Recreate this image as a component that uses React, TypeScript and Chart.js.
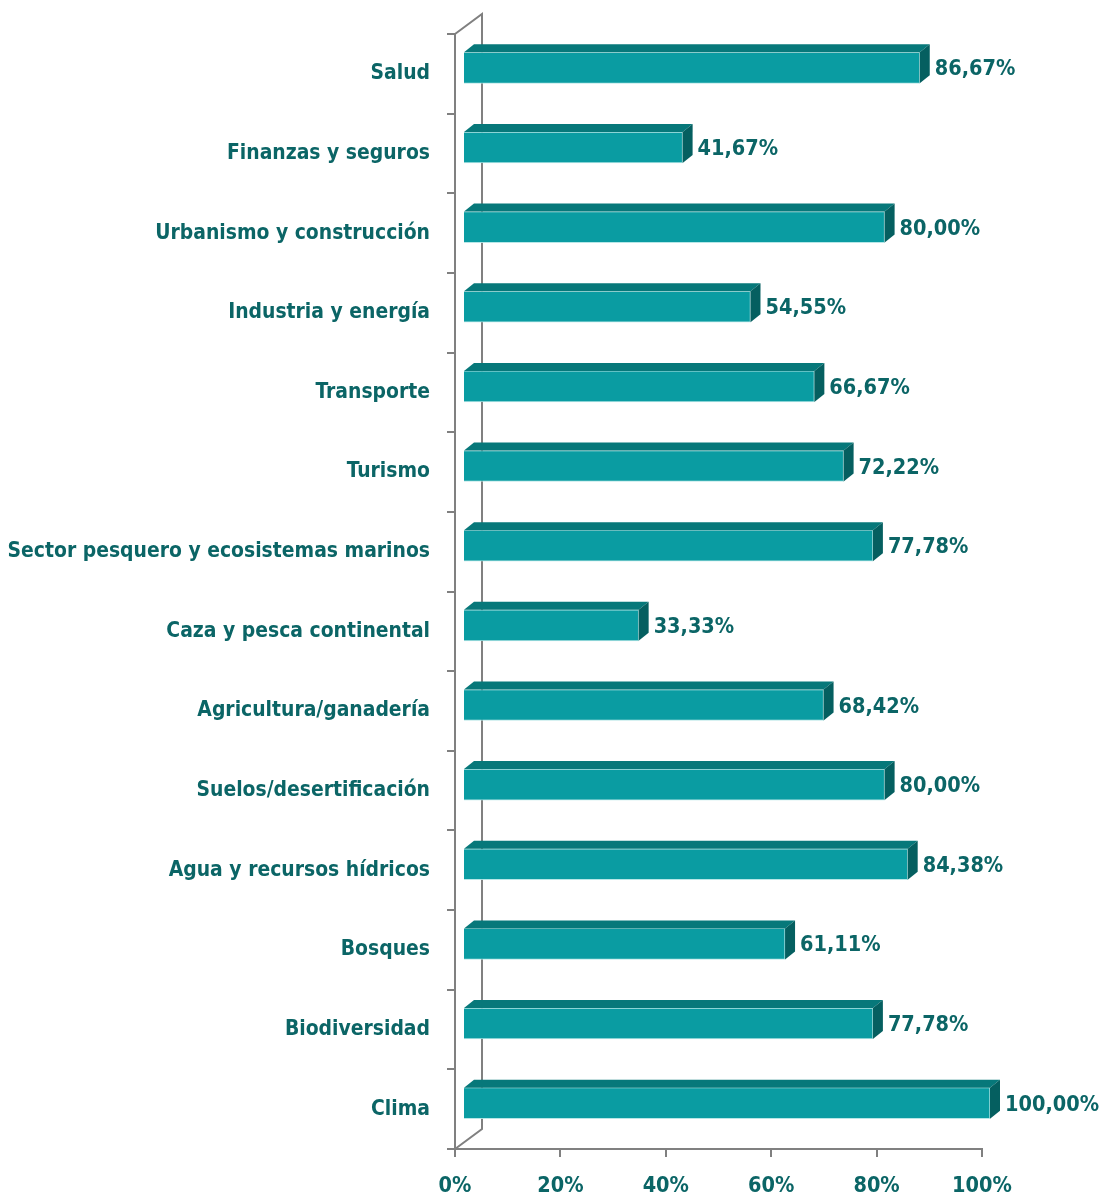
import React, { useEffect, useRef } from "react";
import { Chart, registerables } from "chart.js";

Chart.register(...registerables);

const categories = [
  "Salud",
  "Finanzas y seguros",
  "Urbanismo y construcción",
  "Industria y energía",
  "Transporte",
  "Turismo",
  "Sector pesquero y ecosistemas marinos",
  "Caza y pesca continental",
  "Agricultura/ganadería",
  "Suelos/desertificación",
  "Agua y recursos hídricos",
  "Bosques",
  "Biodiversidad",
  "Clima",
];

const values = [86.67, 41.67, 80.0, 54.55, 66.67, 72.22, 77.78, 33.33, 68.42, 80.0, 84.38, 61.11, 77.78, 100.0];

const xTicks = [0, 20, 40, 60, 80, 100];

const FONT = "'Liberation Sans Narrow', 'DejaVu Sans Condensed', 'Roboto Condensed', sans-serif";
const FSIZE = 21.5;
const YSIZE = 20.9;
const TEXT = "#0b6566";
const FRONT = "#0a9ca2";
const TOP = "#07787a";
const SIDE = "#055f60";
const AXIS = "#808080";

const OFF_X = 8;
const OFF_Y = -6;
const DEPTH_X = 10;
const DEPTH_Y = 8;
const WALL_X = 27;
const WALL_Y = 20;

const fmt = (v: number) => v.toFixed(2).replace(".", ",") + "%";

const bar3d = {
  id: "bar3d",
  beforeDatasetsDraw(chart: any) {
    const { ctx, chartArea } = chart;
    ctx.save();
    ctx.strokeStyle = AXIS;
    ctx.lineWidth = 2;
    ctx.beginPath();
    ctx.moveTo(chartArea.left, chartArea.top);
    ctx.lineTo(chartArea.left + WALL_X, chartArea.top - WALL_Y);
    ctx.lineTo(chartArea.left + WALL_X, chartArea.bottom - WALL_Y);
    ctx.lineTo(chartArea.left, chartArea.bottom);
    ctx.stroke();
    ctx.restore();
    ctx.save();
    ctx.translate(OFF_X, OFF_Y);
  },
  afterDatasetsDraw(chart: any) {
    const { ctx } = chart;
    const meta = chart.getDatasetMeta(0);
    meta.data.forEach((el: any, i: number) => {
      const p = el.getProps(["x", "y", "base", "height"], true);
      const x0 = Math.min(p.base, p.x);
      const x1 = Math.max(p.base, p.x);
      const t = p.y - p.height / 2;
      const b = p.y + p.height / 2;
      ctx.fillStyle = TOP;
      ctx.beginPath();
      ctx.moveTo(x0, t);
      ctx.lineTo(x0 + DEPTH_X, t - DEPTH_Y);
      ctx.lineTo(x1 + DEPTH_X, t - DEPTH_Y);
      ctx.lineTo(x1, t);
      ctx.closePath();
      ctx.fill();
      ctx.fillStyle = SIDE;
      ctx.beginPath();
      ctx.moveTo(x1, t);
      ctx.lineTo(x1 + DEPTH_X, t - DEPTH_Y);
      ctx.lineTo(x1 + DEPTH_X, b - DEPTH_Y);
      ctx.lineTo(x1, b);
      ctx.closePath();
      ctx.fill();
      ctx.fillStyle = TEXT;
      ctx.font = `bold ${FSIZE}px ${FONT}`;
      ctx.textAlign = "left";
      ctx.textBaseline = "middle";
      ctx.fillText(fmt(values[i]), x1 + DEPTH_X + 5, p.y + 2);
    });
    ctx.restore();
  },
};

export default function App() {
  const ref = useRef<HTMLCanvasElement | null>(null);
  useEffect(() => {
    if (!ref.current) return;
    const chart = new Chart(ref.current, {
      type: "bar",
      data: {
        labels: categories,
        datasets: [
          {
            data: values,
            backgroundColor: FRONT,
            borderColor: "rgba(175,228,228,0.9)",
            borderWidth: 1,
            barThickness: 31,
            clip: false as any,
          } as any,
        ],
      },
      options: {
        indexAxis: "y",
        animation: false,
        responsive: true,
        maintainAspectRatio: false,
        layout: { padding: { top: 34, right: 120, left: 0, bottom: 0 } },
        plugins: { legend: { display: false }, tooltip: { enabled: false } },
        scales: {
          x: {
            min: 0,
            max: 100,
            afterBuildTicks(scale: any) {
              scale.ticks = xTicks.map((v) => ({ value: v }));
            },
            afterFit(scale: any) {
              scale.height = 47;
            },
            ticks: {
              callback: (v: any) => v + "%",
              color: TEXT,
              font: { family: FONT, size: FSIZE, weight: "bold" },
              padding: 17,
              maxRotation: 0,
            },
            grid: { drawOnChartArea: false, drawTicks: true, tickLength: 8, color: AXIS, lineWidth: 2 },
            border: { display: true, color: AXIS, width: 2 },
          },
          y: {
            afterFit(scale: any) {
              scale.width = 455;
            },
            ticks: {
              color: TEXT,
              font: { family: FONT, size: YSIZE, weight: "bold" },
              padding: 17,
            },
            grid: { offset: true, drawOnChartArea: false, drawTicks: true, tickLength: 8, color: AXIS, lineWidth: 2 },
            border: { display: true, color: AXIS, width: 2 },
          },
        },
      },
      plugins: [bar3d],
    });
    return () => chart.destroy();
  }, []);
  return (
    <div style={{ position: "fixed", left: 0, top: 0, width: 1102, height: 1196, background: "#fff" }}>
      <canvas ref={ref} />
    </div>
  );
}
